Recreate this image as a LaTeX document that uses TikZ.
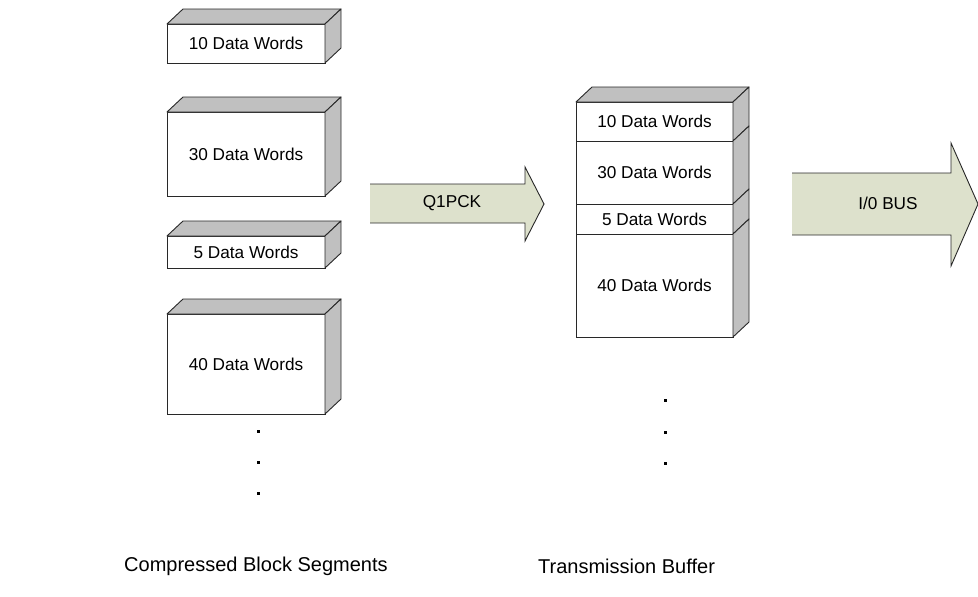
\documentclass[tikz,border=0pt]{standalone}
\usepackage{fontspec}
\setmainfont{Liberation Sans}
\definecolor{facegray}{RGB}{192,192,192}
\definecolor{arrowfill}{RGB}{221,225,204}
\definecolor{edge}{RGB}{40,40,40}
\newcommand\boxfont{\fontsize{17.2}{20}\selectfont}
\newcommand\capfont{\fontsize{20}{24}\selectfont}
% top and right faces of a box whose front face is node #1
\newcommand\topface[1]{%
  \filldraw[shade face] (#1.north west) -- ++(16,-15)
    -- ([shift={(16,-15)}]#1.north east) -- (#1.north east) -- cycle;}
\newcommand\sideface[1]{%
  \filldraw[shade face] (#1.north east) -- ([shift={(16,-15)}]#1.north east)
    -- ([shift={(16,-15)}]#1.south east) -- (#1.south east) -- cycle;}
\begin{document}
\begin{tikzpicture}[x=1pt,y=-1pt,
  front face/.style={draw=edge, fill=white, line width=0.9pt, inner sep=0pt,
    outer sep=0pt, minimum width=158pt, font=\boxfont},
  shade face/.style={draw=edge, fill=facegray, line width=0.9pt, line join=round},
  fat arrow/.style={fill=arrowfill},
  arrow edge/.style={draw=edge, line width=0.9pt, line join=miter},
  dot/.style={fill=black, minimum size=3pt, inner sep=0pt},
  caption/.style={font=\capfont, anchor=west, inner sep=0pt}]
\useasboundingbox (0,0) rectangle (978,597);

% separate segments
\node[front face, minimum height=39pt]  (c10) at (246,43.5) {10 Data Words};
\node[front face, minimum height=84pt]  (c30) at (246,154)  {30 Data Words};
\node[front face, minimum height=32pt]  (c5)  at (246,252)  {5 Data Words};
\node[front face, minimum height=100pt] (c40) at (246,364)  {40 Data Words};
\foreach \b in {c10,c30,c5,c40} {\topface{\b}\sideface{\b}}

\node[dot] (ld1) at (258,431) {};
\node[dot] (ld2) at (258,462) {};
\node[dot] (ld3) at (258,493) {};

% packing arrow
\fill[fat arrow] (370,184) -- (525,184) -- (525,167) -- (544,204)
  -- (525,241) -- (525,223) -- (370,223) -- cycle;
\draw[arrow edge] (370,184) -- (525,184) -- (525,167) -- (544,204)
  -- (525,241) -- (525,223) -- (370,223);
\node[font=\boxfont] (q1pck) at (452,203) {Q1PCK};

% transmission buffer stack
\node[front face, minimum width=157pt, minimum height=39pt]  (s10) at (654.5,121.5) {10 Data Words};
\node[front face, minimum width=157pt, minimum height=63pt]  (s30) at (654.5,172.5) {30 Data Words};
\node[front face, minimum width=157pt, minimum height=30pt]  (s5)  at (654.5,219)   {5 Data Words};
\node[front face, minimum width=157pt, minimum height=103pt] (s40) at (654.5,285.5) {40 Data Words};
\topface{s10}
\foreach \b in {s10,s30,s5,s40} {\sideface{\b}}

\node[dot] (rd1) at (665,400) {};
\node[dot] (rd2) at (665,432) {};
\node[dot] (rd3) at (665,463) {};

% bus arrow
\fill[fat arrow] (792,173) -- (951,173) -- (951,143) -- (978,204)
  -- (951,266) -- (951,235) -- (792,235) -- cycle;
\draw[arrow edge] (792,173) -- (951,173) -- (951,143) -- (978,204)
  -- (951,266) -- (951,235) -- (792,235);
\node[font=\boxfont] (iobus) at (888,203) {I/0 BUS};

% captions
\node[caption] (cap1) at (124,566) {Compressed Block Segments};
\node[caption] (cap2) at (538,566) {Transmission Buffer};
\end{tikzpicture}
\end{document}
